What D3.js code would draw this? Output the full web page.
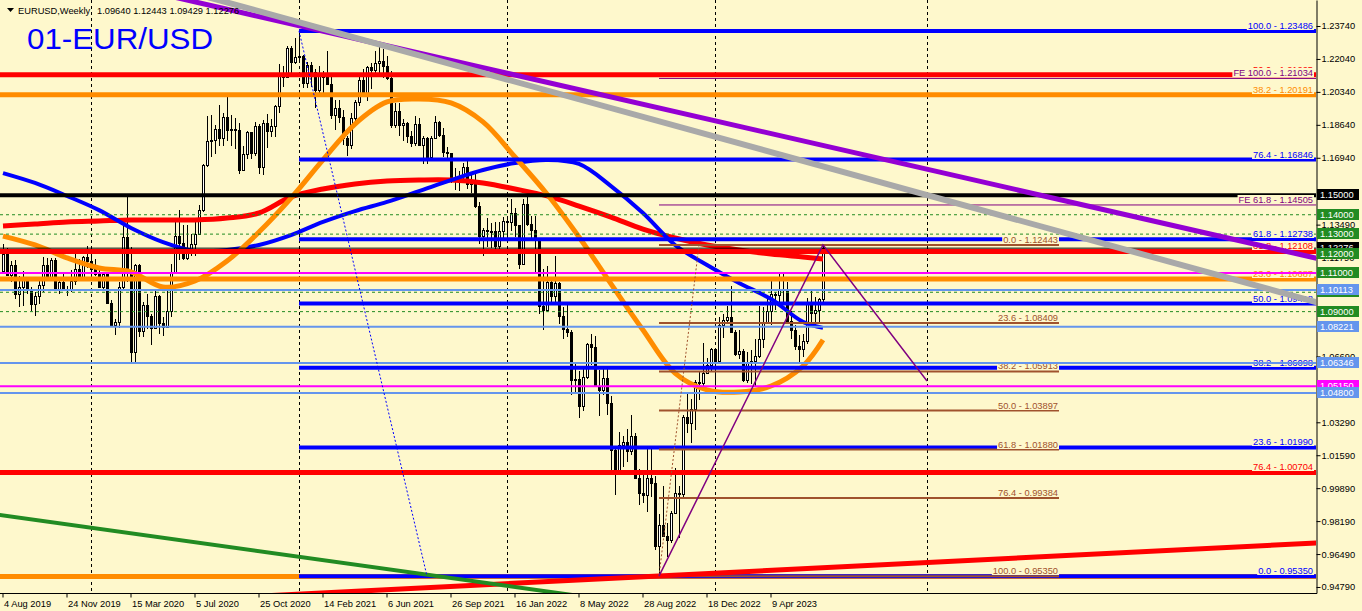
<!DOCTYPE html>
<html>
<head>
<meta charset="utf-8">
<title>EURUSD Weekly</title>
<script src="https://cdnjs.cloudflare.com/ajax/libs/d3/7.8.5/d3.min.js"></script>
<style>
  body { margin: 0; background: #fef8cc; }
  svg { display: block; }
  text { font-family: "Liberation Sans", Arial, sans-serif; }
</style>
</head>
<body>
<svg id="chart" width="1362" height="611"></svg>
<script>
// weekly bars, the first one opens on this Sunday
const firstBar = '2019-08-04';

// [open, high, low, close], one row per week
const ohlc = [
  [1.1108,1.1250,1.1107,1.1199],[1.1200,1.1230,1.1087,1.1090],[1.1090,1.1161,1.1052,1.1143],[1.1143,1.1165,1.0963,1.0989],
  [1.0989,1.1085,1.0926,1.1027],[1.1027,1.1109,1.0927,1.1074],[1.1074,1.1076,1.0990,1.1017],[1.1017,1.1026,1.0904,1.0940],
  [1.0940,1.0999,1.0879,1.0979],[1.0979,1.1063,1.0941,1.1040],[1.1040,1.1180,1.1000,1.1143],[1.1143,1.1179,1.1073,1.1079],
  [1.1079,1.1175,1.1072,1.1165],[1.1165,1.1176,1.1015,1.1018],[1.1018,1.1056,1.0989,1.1051],[1.1051,1.1098,1.1015,1.1019],
  [1.1019,1.1030,1.0981,1.1017],[1.1017,1.1117,1.1003,1.1059],[1.1059,1.1200,1.1040,1.1122],[1.1122,1.1174,1.1066,1.1079],
  [1.1079,1.1187,1.1067,1.1180],[1.1180,1.1239,1.1125,1.1161],
  // 2020
  [1.1161,1.1199,1.1085,1.1121],[1.1121,1.1173,1.1086,1.1092],[1.1092,1.1122,1.1020,1.1025],[1.1025,1.1095,1.1009,1.1094],
  [1.1094,1.1096,1.0940,1.0945],[1.0945,1.0962,1.0826,1.0830],[1.0830,1.0863,1.0778,1.0847],[1.0847,1.1053,1.0815,1.1026],
  [1.1026,1.1355,1.1015,1.1284],[1.1284,1.1495,1.1054,1.1106],[1.1106,1.1236,1.0636,1.0691],[1.0691,1.1147,1.0637,1.1140],
  [1.1140,1.1148,1.0768,1.0800],[1.0800,1.0952,1.0768,1.0935],[1.0935,1.0990,1.0812,1.0875],[1.0875,1.0890,1.0727,1.0818],
  [1.0818,1.1019,1.0812,1.0982],[1.0982,1.0985,1.0782,1.0841],[1.0841,1.0874,1.0775,1.0819],[1.0819,1.1008,1.0815,1.0901],
  [1.0901,1.1147,1.0871,1.1101],[1.1101,1.1384,1.1097,1.1290],[1.1290,1.1422,1.1168,1.1255],[1.1255,1.1349,1.1168,1.1178],
  [1.1178,1.1349,1.1168,1.1220],[1.1220,1.1303,1.1185,1.1247],[1.1247,1.1371,1.1186,1.1299],[1.1299,1.1452,1.1295,1.1427],
  [1.1427,1.1660,1.1415,1.1655],[1.1655,1.1909,1.1647,1.1778],[1.1778,1.1916,1.1696,1.1786],[1.1786,1.1865,1.1711,1.1841],
  [1.1841,1.1966,1.1753,1.1796],[1.1796,1.1926,1.1754,1.1906],[1.1906,1.2011,1.1780,1.1837],[1.1837,1.1917,1.1753,1.1845],
  [1.1845,1.1901,1.1737,1.1838],[1.1838,1.1872,1.1612,1.1631],[1.1631,1.1753,1.1628,1.1716],[1.1716,1.1831,1.1689,1.1826],
  [1.1826,1.1829,1.1689,1.1717],[1.1717,1.1881,1.1703,1.1860],[1.1860,1.1870,1.1612,1.1647],[1.1647,1.1891,1.1603,1.1875],
  [1.1875,1.1920,1.1745,1.1832],[1.1832,1.1893,1.1800,1.1857],[1.1857,1.1965,1.1801,1.1962],[1.1962,1.2177,1.1923,1.2122],
  [1.2122,1.2167,1.2059,1.2111],[1.2111,1.2273,1.2108,1.2258],[1.2258,1.2273,1.2129,1.2186],[1.2186,1.2310,1.2177,1.2215],
  // 2021
  [1.2215,1.2349,1.2193,1.2219],[1.2219,1.2223,1.2055,1.2078],[1.2078,1.2189,1.2054,1.2171],[1.2171,1.2190,1.2057,1.2136],
  [1.2136,1.2150,1.1952,1.2046],[1.2046,1.2169,1.2011,1.2118],[1.2118,1.2144,1.2023,1.2117],[1.2117,1.2243,1.2070,1.2075],
  [1.2075,1.2113,1.1894,1.1915],[1.1915,1.1990,1.1836,1.1952],[1.1952,1.1990,1.1874,1.1906],[1.1906,1.1943,1.1762,1.1795],
  [1.1795,1.1808,1.1704,1.1762],[1.1762,1.1927,1.1738,1.1900],[1.1900,1.1994,1.1869,1.1983],[1.1983,1.2117,1.1960,1.2097],
  [1.2097,1.2150,1.2016,1.2017],[1.2017,1.2168,1.1986,1.2164],[1.2164,1.2181,1.2051,1.2145],[1.2145,1.2245,1.2130,1.2182],
  [1.2182,1.2266,1.2133,1.2192],[1.2192,1.2254,1.2104,1.2167],[1.2167,1.2218,1.2093,1.2106],[1.2106,1.2144,1.1847,1.1864],
  [1.1864,1.1975,1.1848,1.1937],[1.1937,1.1975,1.1807,1.1865],[1.1865,1.1895,1.1781,1.1873],[1.1873,1.1880,1.1772,1.1808],
  [1.1808,1.1830,1.1752,1.1770],[1.1770,1.1909,1.1757,1.1870],[1.1870,1.1900,1.1755,1.1762],[1.1762,1.1805,1.1664,1.1795],
  [1.1795,1.1800,1.1664,1.1700],[1.1700,1.1805,1.1694,1.1795],[1.1795,1.1909,1.1790,1.1880],[1.1880,1.1885,1.1801,1.1813],
  [1.1813,1.1846,1.1700,1.1725],[1.1725,1.1750,1.1684,1.1719],[1.1719,1.1720,1.1563,1.1596],[1.1596,1.1640,1.1529,1.1574],
  [1.1574,1.1624,1.1524,1.1601],[1.1601,1.1669,1.1572,1.1645],[1.1645,1.1692,1.1535,1.1559],[1.1559,1.1616,1.1513,1.1568],
  [1.1568,1.1608,1.1433,1.1446],[1.1446,1.1464,1.1250,1.1289],[1.1289,1.1330,1.1186,1.1319],[1.1319,1.1383,1.1235,1.1318],
  [1.1318,1.1355,1.1227,1.1316],[1.1316,1.1360,1.1222,1.1240],[1.1240,1.1360,1.1222,1.1318],[1.1318,1.1386,1.1275,1.1370],
  // 2022
  [1.1370,1.1385,1.1272,1.1360],[1.1360,1.1482,1.1315,1.1410],[1.1410,1.1435,1.1285,1.1345],[1.1345,1.1347,1.1121,1.1147],
  [1.1147,1.1483,1.1140,1.1456],[1.1456,1.1495,1.1340,1.1350],[1.1350,1.1395,1.1280,1.1322],[1.1322,1.1395,1.1106,1.1271],
  [1.1271,1.1274,1.0889,1.0930],[1.0930,1.1121,1.0806,1.0910],[1.0910,1.1137,1.0900,1.1053],[1.1053,1.1070,1.0944,1.0982],
  [1.0982,1.1185,1.0945,1.1049],[1.1049,1.1053,1.0836,1.0877],[1.0877,1.0924,1.0757,1.0810],[1.0810,1.0936,1.0770,1.0796],
  [1.0796,1.0806,1.0470,1.0545],[1.0545,1.0642,1.0483,1.0551],[1.0551,1.0593,1.0349,1.0413],[1.0413,1.0607,1.0389,1.0563],
  [1.0563,1.0737,1.0550,1.0733],[1.0733,1.0787,1.0627,1.0720],[1.0720,1.0774,1.0511,1.0518],[1.0518,1.0601,1.0359,1.0495],
  [1.0495,1.0605,1.0468,1.0555],[1.0555,1.0615,1.0366,1.0426],[1.0426,1.0465,1.0072,1.0184],[1.0184,1.0199,0.9952,1.0080],
  [1.0080,1.0279,1.0079,1.0213],[1.0213,1.0258,1.0097,1.0225],[1.0225,1.0294,1.0123,1.0182],[1.0182,1.0368,1.0159,1.0259],
  [1.0259,1.0273,1.0034,1.0039],[1.0039,1.0090,0.9900,0.9966],[0.9966,1.0079,0.9910,0.9952],[0.9952,1.0198,0.9864,1.0040],
  [1.0040,1.0197,0.9944,1.0015],[1.0015,1.0050,0.9669,0.9690],[0.9690,0.9854,0.9535,0.9801],[0.9801,0.9999,0.9738,0.9740],
  [0.9740,0.9809,0.9632,0.9723],[0.9723,0.9873,0.9705,0.9862],[0.9862,1.0093,0.9855,0.9965],[0.9965,1.0001,0.9731,0.9957],
  [0.9957,1.0364,0.9935,1.0356],[1.0356,1.0481,1.0272,1.0325],[1.0325,1.0451,1.0223,1.0396],[1.0396,1.0545,1.0289,1.0537],
  [1.0537,1.0588,1.0444,1.0532],[1.0532,1.0736,1.0518,1.0584],[1.0584,1.0659,1.0577,1.0623],[1.0623,1.0714,1.0587,1.0705],
  // 2023
  [1.0705,1.0713,1.0483,1.0644],[1.0644,1.0874,1.0635,1.0830],[1.0830,1.0887,1.0766,1.0856],[1.0856,1.0929,1.0835,1.0870],
  [1.0870,1.1033,1.0794,1.0796],[1.0796,1.0804,1.0669,1.0679],[1.0679,1.0805,1.0655,1.0695],[1.0695,1.0705,1.0535,1.0548],
  [1.0548,1.0691,1.0532,1.0635],[1.0635,1.0700,1.0524,1.0643],[1.0643,1.0760,1.0516,1.0671],[1.0671,1.0930,1.0660,1.0760],
  [1.0760,1.0925,1.0712,1.0840],[1.0840,1.0973,1.0836,1.0902],[1.0902,1.1075,1.0831,1.0993],[1.0993,1.1000,1.0910,1.0986],
  [1.0986,1.1095,1.0942,1.1017],[1.1017,1.1092,1.0943,1.1018],[1.1018,1.1054,1.0848,1.0850],[1.0850,1.0905,1.0760,1.0804],
  [1.0804,1.0830,1.0703,1.0723],[1.0723,1.0779,1.0635,1.0709],[1.0709,1.0786,1.0667,1.0750],[1.0750,1.0970,1.0732,1.0940],
  [1.0940,1.1012,1.0843,1.0895],[1.0895,1.0976,1.0833,1.0910],[1.0910,1.0972,1.0834,1.0965],[1.09640,1.12443,1.09429,1.12276]
];

// moving averages at these bar numbers
const maBars   = [0, 8, 16, 24, 32, 40, 48, 56, 64, 72, 80, 88, 96, 104, 112, 120, 128, 136, 144, 152, 160, 168, 176, 184, 192, 200, 205];
const maOrange = [1.1290,1.1244,1.1177,1.1125,1.1105,1.1027,1.1058,1.1161,1.1311,1.1486,1.1683,1.1868,1.1982,1.1997,1.1977,1.1879,1.1698,1.1507,1.1285,1.1043,1.0805,1.0583,1.0496,1.0485,1.0516,1.0619,1.0754];
const maRed    = [1.1342,1.1352,1.1363,1.1368,1.1373,1.1373,1.1373,1.1383,1.1409,1.1492,1.1533,1.1559,1.1574,1.1579,1.1579,1.1564,1.1533,1.1497,1.1445,1.1388,1.1326,1.1280,1.1244,1.1218,1.1197,1.1182,1.1172];
const maBlue   = [1.1615,1.1564,1.1497,1.1424,1.1332,1.1259,1.1213,1.1218,1.1244,1.1295,1.1363,1.1419,1.1466,1.1522,1.1579,1.1631,1.1667,1.1683,1.1662,1.1548,1.1409,1.1244,1.1141,1.1048,1.0965,1.0847,1.0816];

// fibonacci tools
const fibBlueStart = '2021-01-03';
const fibBlueLevels = [100.0, 76.4, 61.8, 50.0, 38.2, 23.6, 0.0];
const fibBluePrices = [1.23486, 1.16846, 1.12738, 1.09418, 1.06098, 1.01990, 0.95350];
const fibBrownStart = '2022-09-25', fibBrownEnd = '2024-08-25';
const fibBrownLevels = [0.0, 23.6, 38.2, 50.0, 61.8, 76.4, 100.0];
const fibBrownPrices = [1.12443, 1.08409, 1.05913, 1.03897, 1.01880, 0.99384, 0.95350];
const fibRedLevels = [50.0, 61.8, 76.4];
const fibRedPrices = [1.21225, 1.12108, 1.00704];
const fibOrangeLevels = [38.2, 23.6];
const fibOrangePrices = [1.20191, 1.10687];
const feStart = '2022-09-25';
const feLevels = [100.0, 61.8];
const fePrices = [1.21034, 1.14505];

// plain horizontal lines
const orangeBase = 0.9533;
const blackLevel = 1.15000;
const greenLevels = [1.14, 1.13, 1.12, 1.11, 1.10, 1.09];
const lightBlueLevels = [1.10113, 1.08221, 1.06346, 1.04800];
const magentaLevels = [1.1100, 1.0515];
const bidPrice = 1.12276;

// trend lines [date, price]
const trendPurple = [['2020-06-21', 1.2508], ['2025-11-16', 1.1177]];
const trendGray   = [['2020-08-16', 1.2507], ['2025-11-16', 1.0951]];
const trendRed    = [['2021-05-30', 0.9464], ['2025-11-16', 0.9706]];
const trendGreen  = [['2019-08-04', 0.9848], ['2022-01-16', 0.9479]];
const dotBlue     = [['2021-01-03', 1.23486], ['2021-08-15', 0.95350]];
const dotBrown    = [['2022-09-25', 0.95350], ['2022-12-04', 1.12443]];
const zigzag      = [['2022-09-25', 0.95350], ['2023-07-09', 1.12443], ['2024-01-07', 1.0542]];

const yearBreaks = ['2020-01-05', '2021-01-03', '2022-01-02', '2023-01-01', '2024-01-07'];
const dateTicks = ['2019-08-04','2019-11-24','2020-03-15','2020-07-05','2020-10-25','2021-02-14','2021-06-06',
                   '2021-09-26','2022-01-16','2022-05-08','2022-08-28','2022-12-18','2023-04-09'];
const priceTicks = [1.2374,1.2204,1.2034,1.1864,1.1694,1.1349,1.1179,1.0669,1.0329,1.0159,0.9989,0.9819,0.9649,0.9479];

// ---------------------------------------------------------------
const bg = '#fef8cc';
const fs = 9.3;
const plotR = 1316, plotB = 593;
const parse = d3.utcParse('%Y-%m-%d');
const t0 = parse(firstBar);
const bars = ohlc.map((d, i) => ({ date: d3.utcDay.offset(t0, 7 * i), o: d[0], h: d[1], l: d[2], c: d[3] }));

const x = d3.scaleUtc().domain([t0, bars[bars.length - 1].date]).range([3, 823]);
const y = d3.scaleLinear().domain([0.94480, 1.25082]).range([plotB, 0]);
const px = d => Math.round(x(typeof d === 'string' ? parse(d) : d));
const py = p => Math.round(y(p));

const svg = d3.select('#chart');
svg.append('rect').attr('width', 1362).attr('height', 611).attr('fill', bg);
svg.append('defs').append('clipPath').attr('id', 'plot')
  .append('rect').attr('width', plotR).attr('height', plotB);

const plot = svg.append('g').attr('clip-path', 'url(#plot)');

// year separators
plot.append('g').selectAll('line').data(yearBreaks).join('line')
  .attr('x1', d => px(d) + 0.5).attr('x2', d => px(d) + 0.5)
  .attr('y1', 0).attr('y2', plotB)
  .attr('stroke', '#000').attr('stroke-dasharray', '3,3');

// candles
const cg = plot.append('g');
bars.forEach(b => {
  const cx = Math.round(x(b.date));
  const top = py(Math.max(b.o, b.c)), bot = Math.max(py(Math.min(b.o, b.c)), top + 1);
  cg.append('rect').attr('x', cx).attr('y', py(b.h)).attr('width', 1).attr('height', Math.max(1, py(b.l) - py(b.h))).attr('fill', '#000');
  cg.append('rect').attr('x', cx - 1).attr('y', top).attr('width', 3).attr('height', bot - top + 1).attr('fill', '#000');
  if (b.c > b.o && bot - top > 1) {
    cg.append('rect').attr('x', cx).attr('y', top + 1).attr('width', 1).attr('height', bot - top - 1).attr('fill', '#fff');
  }
});

// moving averages
const maLine = d3.line().x(d => x(bars[d[0]].date)).y(d => y(d[1])).curve(d3.curveCatmullRom);
[[maRed, '#ff0000', 5], [maBlue, '#0000ff', 4], [maOrange, '#ff8c00', 5]].forEach(([vals, col, w]) => {
  plot.append('path').attr('d', maLine(maBars.map((b, i) => [b, vals[i]])))
    .attr('fill', 'none').attr('stroke', col).attr('stroke-width', w);
});

// horizontal levels
const hg = plot.append('g');
function hline(price, x1, x2, col, w, dash) {
  const yy = y(price);
  hg.append('line').attr('x1', x1).attr('x2', x2).attr('y1', yy).attr('y2', yy)
    .attr('stroke', col).attr('stroke-width', w).attr('stroke-dasharray', dash || null);
}
hline(orangeBase, 0, plotR, '#ff8c00', 5);
hline(blackLevel, 0, plotR, '#000', 4);
greenLevels.forEach(p => hline(p, 0, plotR, '#228b22', 1, '3,3'));
hline(bidPrice, 0, plotR, '#000', 1);
fibRedPrices.forEach(p => hline(p, 0, plotR, '#ff0000', 5));
fibOrangePrices.forEach(p => hline(p, 0, plotR, '#ff8c00', 5));
fibBluePrices.forEach(p => hline(p, px(fibBlueStart), plotR, '#0000ff', 4));
fePrices.forEach(p => hline(p, px(feStart), plotR, '#800080', 1));
fibBrownPrices.forEach(p => hline(p, px(fibBrownStart), px(fibBrownEnd), '#a0522d', 2));

// level captions, each with a patch of background behind it
const lg = plot.append('g').attr('font-size', fs);
function caption(txt, col, xr, price) {
  const yy = Math.round(y(price)) - 2;
  const t = lg.append('text').attr('x', xr).attr('y', yy).attr('text-anchor', 'end').attr('fill', col).text(txt);
  const w = t.node().getComputedTextLength();
  lg.insert('rect', () => t.node()).attr('x', xr - w - 1).attr('y', yy - 8).attr('width', w + 2).attr('height', 9).attr('fill', bg);
}
const f = (lv, p) => lv.toFixed(1) + ' - ' + p.toFixed(5);
fibRedLevels.forEach((lv, i) => caption(f(lv, fibRedPrices[i]), '#ff0000', 1313, fibRedPrices[i]));
fibOrangeLevels.forEach((lv, i) => caption(f(lv, fibOrangePrices[i]), '#ff8c00', 1313, fibOrangePrices[i]));
feLevels.forEach((lv, i) => caption('FE ' + f(lv, fePrices[i]), '#800080', 1313, fePrices[i]));
fibBlueLevels.forEach((lv, i) => caption(f(lv, fibBluePrices[i]), '#0000ff', 1313, fibBluePrices[i]));
fibBrownLevels.forEach((lv, i) => caption(f(lv, fibBrownPrices[i]), '#a0522d', px(fibBrownEnd) - 1, fibBrownPrices[i]));

lightBlueLevels.forEach(p => plot.append('line').attr('x1', 0).attr('x2', plotR).attr('y1', y(p)).attr('y2', y(p)).attr('stroke', '#6495ed').attr('stroke-width', 2));
magentaLevels.forEach(p => plot.append('line').attr('x1', 0).attr('x2', plotR).attr('y1', y(p)).attr('y2', y(p)).attr('stroke', '#ff00ff').attr('stroke-width', 2));

// trend lines, stretched both ways and clipped to the plot
function ray(pts, col, w) {
  const a = [x(parse(pts[0][0])), y(pts[0][1])], b = [x(parse(pts[1][0])), y(pts[1][1])];
  const k = 20;
  plot.append('line')
    .attr('x1', a[0] - (b[0] - a[0]) * k).attr('y1', a[1] - (b[1] - a[1]) * k)
    .attr('x2', b[0] + (b[0] - a[0]) * k).attr('y2', b[1] + (b[1] - a[1]) * k)
    .attr('stroke', col).attr('stroke-width', w);
}
ray(trendRed, '#ff0000', 5);
ray(trendGreen, '#228b22', 4);
ray(trendPurple, '#9400d3', 5);
ray(trendGray, '#a9a9a9', 6);

const seg = d3.line().x(d => x(parse(d[0]))).y(d => y(d[1]));
plot.append('path').attr('d', seg(dotBlue)).attr('fill', 'none').attr('stroke', '#0000ff').attr('stroke-dasharray', '2,2');
plot.append('path').attr('d', seg(dotBrown)).attr('fill', 'none').attr('stroke', '#a0522d').attr('stroke-dasharray', '2,2');
plot.append('path').attr('d', seg(zigzag)).attr('fill', 'none').attr('stroke', '#800080').attr('stroke-width', 1.5);

// axes
const yAxis = d3.axisRight(y).tickValues(priceTicks).tickSize(4).tickSizeOuter(0).tickPadding(1).tickFormat(d3.format('.5f'));
const ya = svg.append('g').attr('transform', `translate(${plotR + 0.5},0)`).call(yAxis);
ya.selectAll('text').attr('font-size', fs).attr('fill', '#000').attr('font-family', null);
ya.select('.domain').attr('stroke', '#000');

const xAxis = d3.axisBottom(x).tickValues(dateTicks.map(parse)).tickSize(4).tickSizeOuter(0).tickPadding(3)
  .tickFormat(d3.utcFormat('%-d %b %Y'));
const xa = svg.append('g').attr('transform', `translate(-0.5,${plotB + 0.5})`).call(xAxis);
xa.select('.domain').remove();
xa.selectAll('text').attr('font-size', fs).attr('text-anchor', 'start').attr('x', 1).attr('font-family', null);
svg.append('line').attr('x1', 0).attr('x2', plotR + 1).attr('y1', plotB + 0.5).attr('y2', plotB + 0.5).attr('stroke', '#000');

// coloured price tags on the right scale
const tags = [[bidPrice, '#000']].concat([[blackLevel, '#000']],
  greenLevels.map(p => [p, '#228b22']), [[1.0515, '#ff00ff']], lightBlueLevels.map(p => [p, '#6495ed']));
const tg = svg.append('g').attr('font-size', fs);
tags.forEach(([p, col]) => {
  const yy = Math.round(y(p));
  tg.append('rect').attr('x', plotR + 1).attr('y', yy - 6).attr('width', 42).attr('height', 11).attr('fill', col);
  tg.append('text').attr('x', plotR + 4).attr('y', yy + 3).attr('fill', '#fff').text(p.toFixed(5));
});

// header and title
svg.append('path').attr('d', 'M7,8 L14,8 L10.5,12 Z').attr('fill', '#000');
svg.append('text').attr('x', 18).attr('y', 14).attr('font-size', fs).text('EURUSD,Weekly');
svg.append('text').attr('x', 97).attr('y', 14).attr('font-size', fs)
  .text(ohlc[ohlc.length - 1].map(v => v.toFixed(5)).join(' '));
svg.append('text').attr('x', 27).attr('y', 49).attr('font-size', 29)
  .attr('textLength', 186).attr('lengthAdjust', 'spacingAndGlyphs')
  .attr('fill', '#0000ff').text('01-EUR/USD');
</script>
</body>
</html>
